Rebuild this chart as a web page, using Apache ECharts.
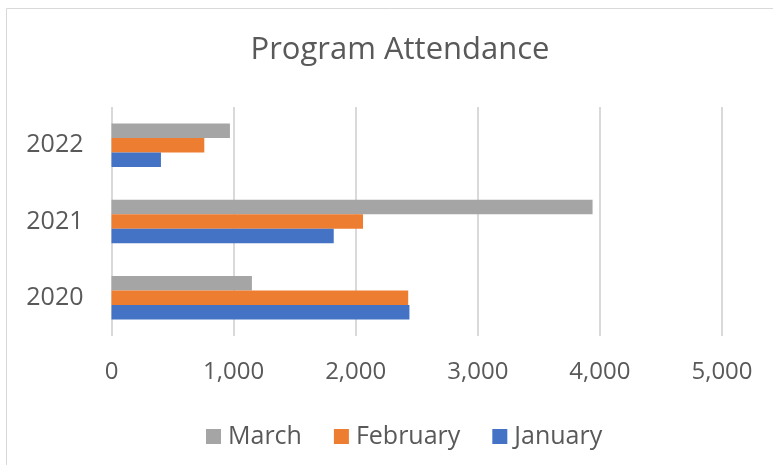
<!DOCTYPE html>
<html>
<head>
<meta charset="utf-8">
<script src="https://cdn.jsdelivr.net/npm/echarts@6/dist/echarts.min.js"></script>
<style>
  html, body { margin: 0; padding: 0; background: #fff; }
  #chart { width: 773px; height: 465px; }
</style>
</head>
<body>
<div id="chart"></div>
<script>
// 年份（自下而上）
var years = ["2020", "2021", "2022"];
var january = [2440, 1820, 405];
var february = [2430, 2060, 760];
var march = [1150, 3940, 970];
var xTicks = { min: 0, max: 5000, interval: 1000 };
var legendOrder = ["March", "February", "January"];

var font = "'Open Sans', 'Noto Sans', sans-serif";
var textColor = "#595959";

var chart = echarts.init(document.getElementById("chart"));
chart.setOption({
  animation: false,
  textStyle: { fontFamily: font },
  title: {
    text: "Program Attendance",
    left: 395,
    top: 30,
    textAlign: "center",
    textStyle: { fontFamily: font, fontSize: 31, fontWeight: "normal", color: textColor }
  },
  legend: {
    data: legendOrder,
    left: 201,
    top: 419,
    itemWidth: 15,
    itemHeight: 15,
    itemGap: 32,
    icon: "rect",
    textStyle: { fontFamily: font, fontSize: 25, color: textColor, padding: [0, 0, 0, 2] }
  },
  grid: { left: 111.5, right: 51, top: 107, bottom: 129, containLabel: false },
  xAxis: {
    type: "value",
    min: xTicks.min,
    max: xTicks.max,
    interval: xTicks.interval,
    axisLine: { show: false },
    axisTick: { show: false },
    splitLine: { lineStyle: { color: "#D9D9D9", width: 2 } },
    axisLabel: {
      margin: 24,
      fontFamily: font,
      fontSize: 24,
      color: textColor,
      formatter: function (v) { return v.toLocaleString("en-US"); }
    }
  },
  yAxis: {
    type: "category",
    data: years,
    axisLine: { show: false },
    axisTick: { show: false },
    axisLabel: { margin: 28, fontFamily: font, fontSize: 25, color: textColor }
  },
  // 横向柱子：第一个系列在最上面
  series: [
    { name: "March", type: "bar", data: march, barWidth: 14.5, barGap: "0%",
      itemStyle: { color: "#A5A5A5" } },
    { name: "February", type: "bar", data: february, barWidth: 14.5, barGap: "0%",
      itemStyle: { color: "#ED7D31" } },
    { name: "January", type: "bar", data: january, barWidth: 14.5, barGap: "0%",
      itemStyle: { color: "#4472C4" } }
  ],
  graphic: [{
    type: "rect",
    shape: { x: 6.5, y: 8.5, width: 800, height: 500 },
    style: { fill: "none", stroke: "#D9D9D9", lineWidth: 1 },
    silent: true
  }]
});
</script>
</body>
</html>
